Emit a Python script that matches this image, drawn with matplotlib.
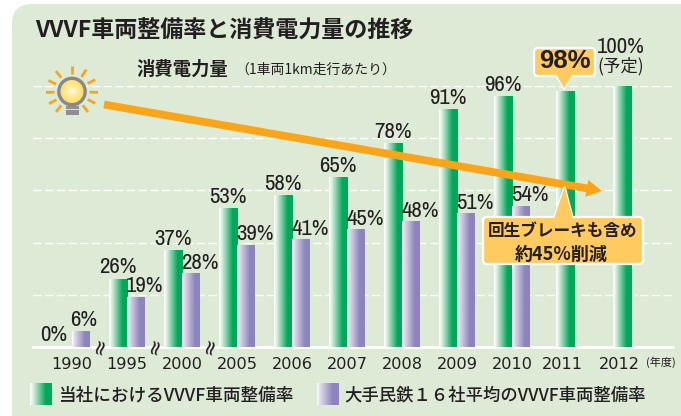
import numpy as np
import matplotlib
matplotlib.use("Agg")
import matplotlib.pyplot as plt
from matplotlib import font_manager as fm
from matplotlib.colors import LinearSegmentedColormap as LSC
from matplotlib.patches import FancyBboxPatch, Circle, Polygon, Rectangle

plt.rcParams['font.family'] = ['Noto Sans CJK JP', 'DejaVu Sans']

years = ['1990', '1995', '2000', '2005', '2006', '2007', '2008', '2009', '2010', '2011', '2012']
company = [0, 26, 37, 53, 58, 65, 78, 91, 96, 98, 100]
peers = [6, 19, 28, 39, 41, 45, 48, 51, 54, None, None]
x_nudge = [0, 0, 0, 0, 0, 0, 0, 0, 0, -0.04, 0]
label_nudge = [0, 0, 0, 0, 0, 0, 0, 0, 0, -0.09, -0.04]

W, H = 681, 416
GREEN = '#00A859'; PURPLE = '#8D84BC'; ORANGE = '#F9A51A'; BG = '#DDEBD6'
CALL = '#FFCB60'; INK = '#231F20'
have = {f.name for f in fm.fontManager.ttflist}
narrow = next((n for n in ('Archivo Narrow', 'Roboto Condensed', 'PT Sans Narrow', 'Pragati Narrow') if n in have),
              'Liberation Sans')
NUM = [narrow, 'DejaVu Sans']
CJK = ['Noto Sans CJK JP', 'DejaVu Sans']

fig = plt.figure(figsize=(W / 100, H / 100), dpi=100, facecolor='white')


def pix_axes(z):
    a = fig.add_axes([0, 0, 1, 1], zorder=z)
    a.set_xlim(0, W); a.set_ylim(H, 0); a.axis('off'); a.patch.set_alpha(0)
    return a


back = pix_axes(0)
back.add_patch(FancyBboxPatch((12 + 20, 4 + 20), W + 30 - 32, H + 30 - 44,
                              boxstyle='round,pad=20,rounding_size=20', fc=BG, ec='none'))
back.add_patch(Rectangle((665, 400), 30, 30, fc=BG, ec='none'))

# chart axes: mapped so that 0 -> y=347 px, 100 -> y=86 px
L, R, T, B = 33, 673, 86, 347
ax = fig.add_axes([L / W, 1 - B / H, (R - L) / W, (B - T) / H], zorder=1)
ax.patch.set_alpha(0)
ppx = 55.0
xlim = ((L - 72) / ppx, (R - 72) / ppx)
bw_g, bw_p = 18.5 / ppx, 18.0 / ppx
green_cm = LSC.from_list('g', [(0, '#FFFFFF'), (0.1, '#E8F3EA'), (0.72, GREEN), (1, GREEN)])
purple_cm = LSC.from_list('p', [(0, '#FFFFFF'), (0.1, '#E4E1F0'), (0.72, PURPLE), (1, PURPLE)])
ramp = np.linspace(0, 1, 64).reshape(1, -1)


def grad_bar(xc, w, h, col, cm):
    r = ax.bar(xc, h, width=w, color=col, zorder=2)[0]
    ax.imshow(ramp, cmap=cm, extent=(r.get_x(), r.get_x() + r.get_width(), 0, h),
              aspect='auto', zorder=2.1, interpolation='bilinear')


num_kw = dict(family=NUM, fontsize=16.5, color=INK, ha='center', va='baseline',
              textcoords='offset points', zorder=5, annotation_clip=False)
for i, (yr, c, p) in enumerate(zip(years, company, peers)):
    if p is None:
        xc = i + x_nudge[i]
        grad_bar(xc, bw_g, c, GREEN, green_cm)
        continue
    xc = i - bw_g / 2
    if c > 0:
        grad_bar(xc, bw_g, c, GREEN, green_cm)
    ax.annotate(f'{c}%', (xc, c), xytext=(0 if i else -6.5, 4.2), **num_kw)
    xp = i + bw_p / 2 + 0.005
    grad_bar(xp, bw_p, p, PURPLE, purple_cm)
    ax.annotate(f'{p}%', (xp, p), xytext=(6.2 if i else 1.5, 3.6), **num_kw)

ax.set_xlim(*xlim); ax.set_ylim(0, 100)
ax.set_yticks([20, 40, 60, 80, 100]); ax.set_yticklabels([])
ax.yaxis.grid(True, color='white', lw=1.0, ls=(0, (6, 2.4)), zorder=1)
ax.set_axisbelow(True)
ax.tick_params(axis='y', length=0)
ax.set_xticks([i + n for i, n in enumerate(label_nudge)])
ax.set_xticklabels(years, family='DejaVu Sans', fontsize=11.6, color=INK)
ax.tick_params(axis='x', length=0, pad=7.5)
for s in ('top', 'left', 'right'):
    ax.spines[s].set_visible(False)
ax.spines['bottom'].set_color('white'); ax.spines['bottom'].set_linewidth(2)
ax.spines['bottom'].set_zorder(1.5)

# overlay in pixel coordinates
ov = pix_axes(3)
ov.text(35, 30, 'VVVF車両整備率と消費電力量の推移', family=CJK, fontsize=16.6,
        fontweight='bold', color=INK, va='center', ha='left')
ov.text(136, 69, '消費電力量', family=CJK, fontsize=13.2, fontweight='bold', color=INK, va='center')
ov.text(235, 70, '（1車両1km走行あたり）', family=CJK, fontsize=10, color=INK, va='center')
ov.text(661, 362, '(年度)', family=CJK, fontsize=8, color=INK, va='center', ha='center')

for xb in (100, 155, 210):
    ov.text(xb, 346, '≈', family='DejaVu Sans', fontsize=15, color=INK, rotation=75,
            ha='center', va='center')

# bulb
cx, cy = 72, 91.5
for a in (90, 57, 27, -2, -27, -52, 128, 155, 182, 208, 232):
    t = np.deg2rad(a)
    ov.plot([cx + 17.5 * np.cos(t), cx + 26 * np.cos(t)], [cy - 17.5 * np.sin(t), cy - 26 * np.sin(t)],
            color=ORANGE, lw=2.0, solid_capstyle='butt')
ov.add_patch(Rectangle((66, 101), 13, 14, fc='#8E8E8E', ec='none'))
for yy in (105, 108.5):
    ov.plot([65, 80], [yy, yy], color='#D8D8C8', lw=0.8)
yy_, xx_ = np.mgrid[-1:1:60j, -1:1:60j]
rr = np.clip(np.hypot(xx_, yy_), 0, 1)
bulb_cm = LSC.from_list('b', ['#FFFBD8', '#FFE98A', '#FFD75E'])
im = ov.imshow(rr, cmap=bulb_cm, extent=(cx - 14, cx + 14, cy + 14, cy - 14), aspect='auto', zorder=3)
circ = Circle((cx, cy), 13, transform=ov.transData, fc='none', ec='none')
ov.add_patch(circ); im.set_clip_path(circ)
ov.add_patch(Circle((cx, cy), 13.2, fc='none', ec='#86888A', lw=2.4, zorder=4))
ov.set_xlim(0, W); ov.set_ylim(H, 0)

# arrow
x0, y0, x1, y1 = 104, 104.5, 602, 191
d = np.array([x1 - x0, y1 - y0], float); u = d / np.hypot(*d); n = np.array([-u[1], u[0]])
p0 = np.array([x0, y0], float); tip = np.array([x1, y1], float); neck = tip - u * 15.5
hw, hh = 3.9, 8.5
ov.add_patch(Polygon([p0 + n * hw, neck + n * hw, neck + n * hh, tip, neck - n * hh, neck - n * hw, p0 - n * hw],
                     closed=True, fc=ORANGE, ec='none', zorder=5))


def callout(x0, y0, x1, y1, ptr, z):
    ov.add_patch(Polygon(ptr, closed=True, fc=CALL, ec='white', lw=1.6, zorder=z, joinstyle='miter'))
    ov.add_patch(FancyBboxPatch((x0 + 3, y0 + 3), x1 - x0 - 6, y1 - y0 - 6, boxstyle='round,pad=3,rounding_size=4',
                                fc=CALL, ec='white', lw=1.6, zorder=z + 0.1))
    ov.add_patch(Polygon(ptr, closed=True, fc=CALL, ec='none', zorder=z + 0.2))


callout(534, 48, 595, 76, [(556, 74), (564, 88), (573, 74)], 6)
ov.text(564.5, 61.5, '98%', family=['Liberation Sans', 'DejaVu Sans'], fontsize=18.5, fontweight='bold',
        color=INK, ha='center', va='center', zorder=8)
callout(483, 217, 643, 264, [(554, 219), (564.5, 187), (573, 219)], 6)
ov.text(562.5, 231, '回生ブレーキも含め', family=CJK, fontsize=12.0, fontweight='bold', color=INK,
        ha='center', va='center', zorder=8)
ov.text(561.5, 254, '約45%削減', family=CJK, fontsize=13, fontweight='bold', color=INK,
        ha='center', va='center', zorder=8)

ov.text(620.5, 47, '100%', family=NUM, fontsize=16.5, color=INK, ha='center', va='center', zorder=8)
ov.text(620.5, 66, '(予定)', family=CJK, fontsize=12.5, color=INK, ha='center', va='center', zorder=8)

# legend
for xl, cm, col in ((30, green_cm, GREEN), (317, purple_cm, PURPLE)):
    ov.imshow(ramp, cmap=cm, extent=(xl, xl + 22, 405, 383), aspect='auto', zorder=3, interpolation='bilinear')
ov.set_xlim(0, W); ov.set_ylim(H, 0)
ov.text(58, 396, '当社におけるVVVF車両整備率', family=CJK, fontsize=12.7, fontweight='medium', color=INK, va='center')
ov.text(344, 395, '大手民鉄１６社平均のVVVF車両整備率', family=CJK, fontsize=12.5, fontweight='medium', color=INK, va='center')

fig.savefig('out.png', dpi=100, facecolor='white')
